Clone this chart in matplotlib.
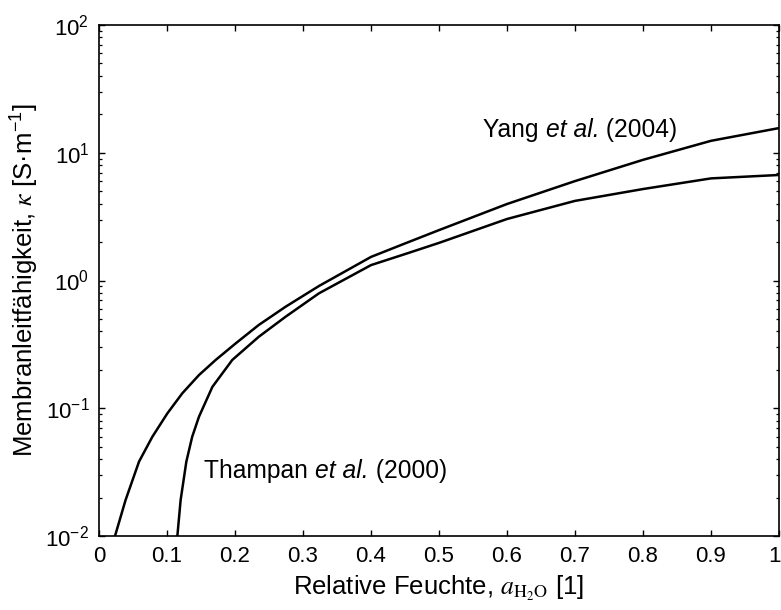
import matplotlib
matplotlib.use("Agg")
import matplotlib.pyplot as plt
import matplotlib.transforms as mtransforms
import numpy as np
from matplotlib.ticker import FuncFormatter, LogLocator, NullFormatter
from matplotlib.offsetbox import TextArea, HPacker, AnnotationBbox

plt.rcParams['font.family'] = ['Liberation Sans', 'DejaVu Sans']
plt.rcParams['mathtext.fontset'] = 'stix'

# Yang et al. (2004)
a_yang = [0.0235, 0.039, 0.0588, 0.0784, 0.1005, 0.1225, 0.147, 0.1716, 0.201, 0.235,
          0.2745, 0.3235, 0.4, 0.45, 0.5, 0.6, 0.7, 0.8, 0.9, 1.0]
k_yang = [0.010, 0.0191, 0.0382, 0.0598, 0.0912, 0.131, 0.182, 0.239, 0.322, 0.449,
          0.624, 0.906, 1.53, 1.95, 2.48, 3.97, 6.0, 8.8, 12.4, 15.6]

# Thampan et al. (2000)
a_tham = [0.1152, 0.120, 0.1284, 0.137, 0.147, 0.1667, 0.196, 0.235, 0.2745, 0.3235,
          0.4, 0.45, 0.5, 0.6, 0.7, 0.8, 0.9, 1.0]
k_tham = [0.010, 0.0191, 0.0382, 0.0598, 0.0859, 0.147, 0.239, 0.363, 0.521, 0.794,
          1.32, 1.61, 1.97, 3.03, 4.2, 5.2, 6.3, 6.7]

xtick_labels = ['0', '0.1', '0.2', '0.3', '0.4', '0.5', '0.6', '0.7', '0.8', '0.9', '1']

fig = plt.figure(figsize=(7.81, 6.10), dpi=100)
ax = fig.add_axes([0.1268, 0.1213, 0.8706, 0.8377])

ax.semilogy(a_yang, k_yang, 'k-', linewidth=1.8)
ax.semilogy(a_tham, k_tham, 'k-', linewidth=1.8)

ax.set_xlim(0, 1)
ax.set_ylim(1e-2, 1e2)
ax.set_xticks(np.linspace(0, 1, len(xtick_labels)))
ax.set_xticklabels(xtick_labels)
ax.yaxis.set_major_locator(LogLocator(base=10, numticks=10))
ax.yaxis.set_minor_locator(LogLocator(base=10, subs=np.arange(2, 10), numticks=10))
ax.yaxis.set_minor_formatter(NullFormatter())
ax.yaxis.set_major_formatter(FuncFormatter(lambda v, p: r'$\mathregular{10^{%d}}$' % round(np.log10(v))))

ax.tick_params(which='both', direction='in', top=True, right=True, labelsize=16)
ax.tick_params(which='major', length=4.5, width=1.0, pad=7)
ax.tick_params(which='minor', length=2.3, width=0.9)
for s in ax.spines.values():
    s.set_linewidth(1.2)

# last tick label "1" sits at the figure edge: nudge it left a little
last = ax.get_xticklabels()[-1]
last.set_transform(last.get_transform() + mtransforms.ScaledTranslation(-4 / 100, 0, fig.dpi_scale_trans))

ax.set_xlabel(r'Relative Feuchte, $a_{\mathrm{H_2O}}$ [1]', fontsize=18.5, labelpad=5)
ax.set_ylabel(r'Membranleitfähigkeit, $\kappa$ [S·m$\mathregular{^{-1}}$]', fontsize=18.5, labelpad=3)


def label(parts, xy):
    areas = [TextArea(t, textprops=dict(fontsize=17.7, style=st)) for t, st in parts]
    box = HPacker(children=areas, pad=0, sep=0, align='baseline')
    ab = AnnotationBbox(box, xy, xycoords='data', box_alignment=(0, 0.5), frameon=False)
    ax.add_artist(ab)


label([('Yang ', 'normal'), ('et al.', 'italic'), (' (2004)', 'normal')], (0.565, 15.1))
label([('Thampan ', 'normal'), ('et al.', 'italic'), (' (2000)', 'normal')], (0.155, 0.032))

fig.savefig('out.png', dpi=100)
